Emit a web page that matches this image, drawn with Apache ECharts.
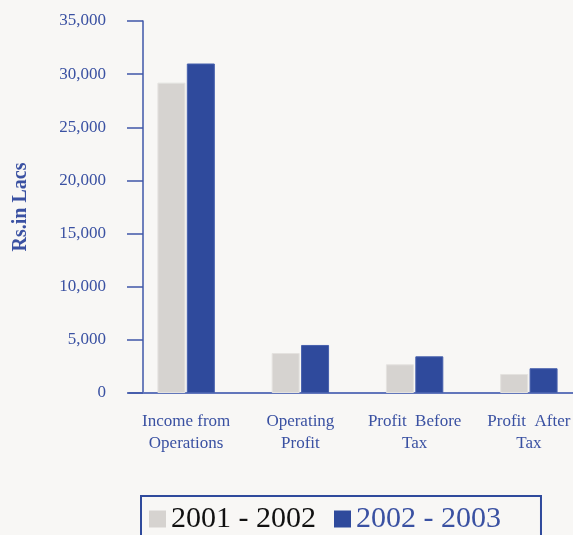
<!DOCTYPE html>
<html>
<head>
<meta charset="utf-8">
<script src="https://cdn.jsdelivr.net/npm/echarts@6/dist/echarts.min.js"></script>
<style>
  html, body { margin: 0; padding: 0; background: #f8f7f5; overflow: hidden; }
  #chart { width: 600px; height: 535px; }
</style>
</head>
<body>
<div id="chart"></div>
<script>
// categories on the x axis
const categories = ['Income from\nOperations', 'Operating\nProfit', 'Profit  Before\nTax', 'Profit  After\nTax'];
// values (Rs. in Lacs)
const fy2002 = [29200, 3760, 2700, 1790];
const fy2003 = [31000, 4520, 3450, 2330];
const seriesNames = ['2001 - 2002', '2002 - 2003'];

const blue = '#2f4a9c';
const textBlue = '#3a51a2';
const grey = '#d6d3d0';
const serif = '"Liberation Serif", "DejaVu Serif", serif';

var myChart = echarts.init(document.getElementById('chart'));

const options = {
    backgroundColor: '#f8f7f5',
    animation: false,
    grid: {
        left: 129,
        right: 14,
        top: 21,
        bottom: 142,
    },
    xAxis: {
        type: 'category',
        data: categories,
        axisLine: { lineStyle: { color: '#6276bb', width: 2 } },
        axisTick: { show: false },
        axisLabel: {
            color: textBlue,
            fontFamily: serif,
            fontSize: 17,
            lineHeight: 22,
            margin: 18,
            interval: 0,
        },
    },
    yAxis: {
        type: 'value',
        min: 0,
        max: 35000,
        interval: 5000,
        offset: -14,
        name: 'Rs.in Lacs',
        nameLocation: 'middle',
        nameGap: 112,
        nameRotate: 90,
        nameTextStyle: {
            color: textBlue,
            fontFamily: serif,
            fontSize: 20,
            fontWeight: 'bold',
        },
        axisLine: { show: true, lineStyle: { color: '#3f57a8', width: 1.5 } },
        axisTick: { show: true, length: 16, lineStyle: { color: '#3f57a8', width: 1.5 } },
        splitLine: { show: false },
        axisLabel: {
            color: textBlue,
            fontFamily: serif,
            fontSize: 17,
            margin: 37,
            formatter: v => v.toLocaleString('en-US'),
        },
    },
    legend: {
        left: 141,
        top: 496,
        icon: 'rect',
        itemWidth: 17,
        itemHeight: 17,
        itemGap: 18,
        itemStyle: { borderWidth: 0 },
        padding: [8, 40, 14, 8],
        borderColor: '#2f4a9c',
        borderWidth: 2,
        textStyle: { fontFamily: serif, fontSize: 30 },
        data: [
            { name: seriesNames[0], textStyle: { color: '#111111' } },
            { name: seriesNames[1], textStyle: { color: textBlue } },
        ],
    },
    series: [
        {
            name: seriesNames[0],
            type: 'bar',
            data: fy2002,
            barWidth: 28,
            barGap: '5%',
            itemStyle: { color: grey, borderColor: '#e4e2df', borderWidth: 1 },
        },
        {
            name: seriesNames[1],
            type: 'bar',
            data: fy2003,
            barWidth: 28,
            itemStyle: { color: blue, borderColor: '#4760ad', borderWidth: 1 },
        },
    ],
};

myChart.setOption(options);
</script>
</body>
</html>
